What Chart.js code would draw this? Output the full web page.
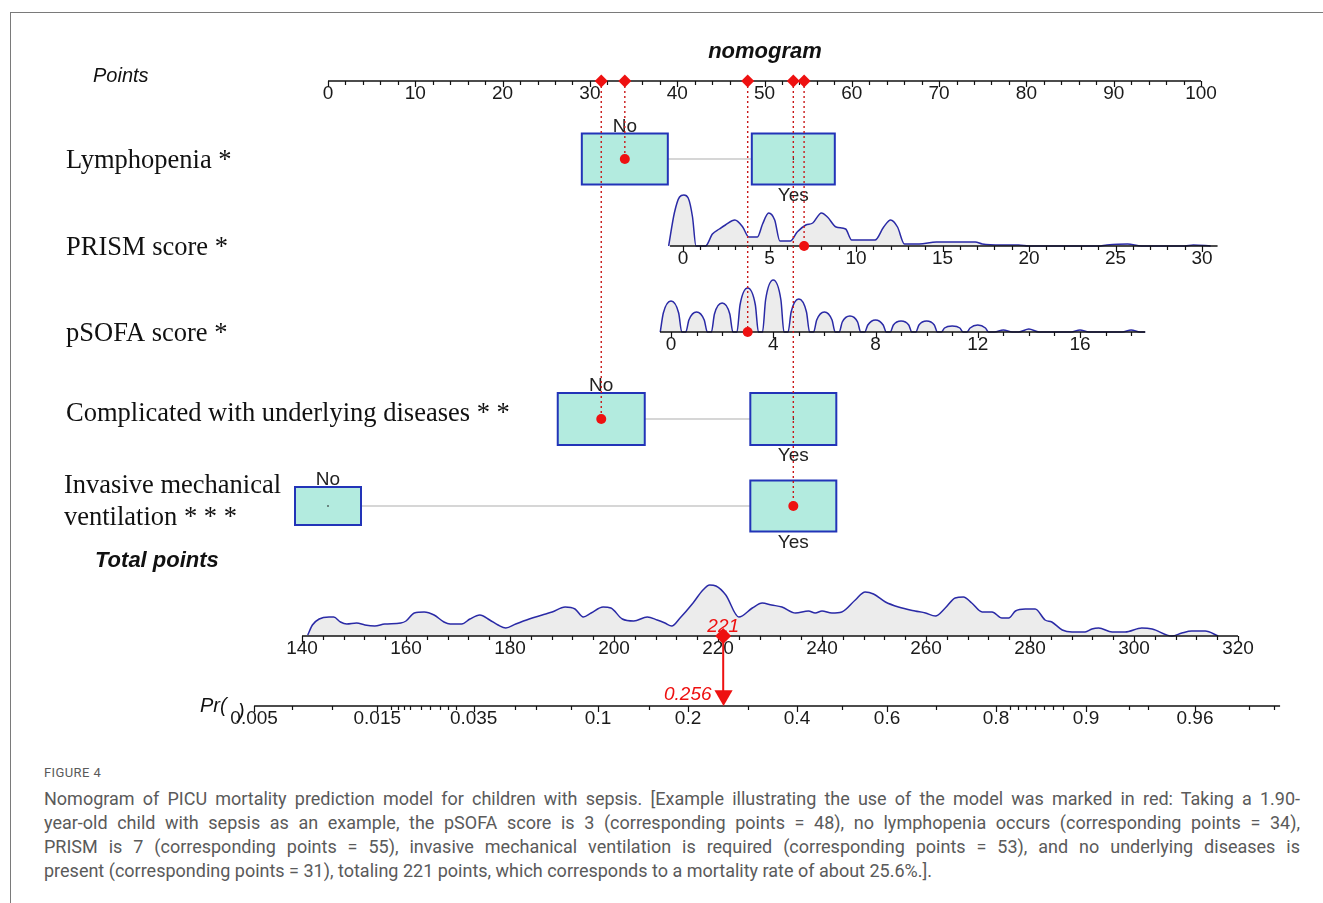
<!DOCTYPE html>
<html>
<head>
<meta charset="utf-8">
<title>Nomogram of PICU mortality</title>
<script src="https://cdn.jsdelivr.net/npm/chart.js@4.4.1/dist/chart.umd.min.js"></script>
<style>
  html, body { margin: 0; padding: 0; background: #fff; }
  body { width: 1323px; height: 903px; position: relative; overflow: hidden; }
  #frame { position: absolute; left: 10px; top: 12px; right: 0; bottom: 0; border-top: 1px solid #7a7a7a; border-left: 1px solid #7a7a7a; }
  #chart { position: absolute; left: 0; top: 0; }
  #caption { position: absolute; left: 44px; top: 765px; width: 1256px; color: #5a5a5a; font-family: "Liberation Sans Narrow", "Roboto", sans-serif; }
  #caption .fig { font-size: 13px; letter-spacing: 0.4px; height: 22px; }
  #caption .ln { font-size: 18px; line-height: 24px; white-space: nowrap; text-align: justify; text-align-last: justify; }
  #caption .ln.last { text-align-last: left; }
</style>
</head>
<body>
<div id="frame"></div>
<canvas id="chart" width="1323" height="745"></canvas>
<div id="caption">
  <div class="fig">FIGURE 4</div>
  <div class="ln">Nomogram of PICU mortality prediction model for children with sepsis. [Example illustrating the use of the model was marked in red: Taking a 1.90-</div>
  <div class="ln">year-old child with sepsis as an example, the pSOFA score is 3 (corresponding points = 48), no lymphopenia occurs (corresponding points = 34),</div>
  <div class="ln">PRISM is 7 (corresponding points = 55), invasive mechanical ventilation is required (corresponding points = 53), and no underlying diseases is</div>
  <div class="ln last">present (corresponding points = 31), totaling 221 points, which corresponds to a mortality rate of about 25.6%.].</div>
</div>
<script>
// nomogram, drawn on one scatter chart with one hidden x scale per axis
const W = 1323, H = 745;

// tick labels
const pointTicks = [0, 10, 20, 30, 40, 50, 60, 70, 80, 90, 100];
const prismTicks = [0, 5, 10, 15, 20, 25, 30];
const sofaTicks = [0, 4, 8, 12, 16];
const totalTicks = [140, 160, 180, 200, 220, 240, 260, 280, 300, 320];
const prTicks = [0.005, 0.015, 0.035, 0.1, 0.2, 0.4, 0.6, 0.8, 0.9, 0.96];
const prMinor = [0.007, 0.01, 0.017, 0.018, 0.019, 0.02, 0.022, 0.024, 0.026, 0.028, 0.03, 0.05, 0.06, 0.08,
  0.15, 0.3, 0.5, 0.7, 0.82, 0.83, 0.84, 0.85, 0.86, 0.87, 0.88, 0.93, 0.94, 0.975, 0.98];

// categorical predictors: level -> points
const lymphLevels = ['No', 'Yes'];
const lymphPoints = [34, 53.3];
const compLevels = ['No', 'Yes'];
const compPoints = [31.3, 53.3];
const ventLevels = ['No', 'Yes'];
const ventPoints = [0, 53.3];

// distributions (value, relative density)
const prismDensity = [[-0.83,0],[-0.5,33],[-0.2,49],[0.05,51],[0.3,48],[0.55,29],[0.75,0],[1.3,0],[1.7,12],[2.1,17],
  [2.45,21],[3.0,26],[3.45,19],[3.8,9],[4.3,9],[4.6,22],[4.95,33],[5.3,26],[5.6,5],[6.2,5],[6.6,14],[7.1,21],[7.5,23],
  [8.0,33],[8.35,29],[8.85,19],[9.4,17],[9.75,6],[10.4,6],[11.1,6],[11.6,19],[12.0,26],[12.4,19],[12.8,2],[13.65,2],
  [14.65,4],[15.7,4],[16.9,4],[17.3,2],[18.4,1],[19.4,1],[20,0],[24,0],[24.5,1],[25.7,2],[26.5,0],[29,0],[29.5,1],[30.5,0]];

const sofaDensity = [
  [-0.42,0],[-0.3,19],[0,31],[0.3,19],[0.42,0],
  [0.58,0],[0.7,12],[1,20],[1.3,12],[1.42,0],
  [1.58,0],[1.7,18],[2,29],[2.3,18],[2.42,0],
  [2.58,0],[2.7,27],[3,44],[3.3,27],[3.42,0],
  [3.58,0],[3.7,32],[4,52],[4.3,32],[4.42,0],
  [4.58,0],[4.7,20],[5,33],[5.3,20],[5.42,0],
  [5.58,0],[5.7,12],[6,20],[6.3,12],[6.42,0],
  [6.58,0],[6.7,10],[7,16],[7.3,10],[7.42,0],
  [7.58,0],[7.7,7],[8,12],[8.3,7],[8.42,0],
  [8.58,0],[8.7,7],[9,11],[9.3,7],[9.42,0],
  [9.58,0],[9.7,7],[10,11],[10.3,7],[10.42,0],
  [10.58,0],[10.7,4],[11,6],[11.3,4],[11.42,0],
  [11.58,0],[11.7,4],[12,7],[12.3,4],[12.42,0],
  [12.65,0],[13,2],[13.35,0],[13.6,0],[14,3],[14.4,0],
  [15.65,0],[16,2],[16.35,0],[17.65,0],[18,2],[18.35,0],[18.55,0]];

const totalDensity = [[141.1,1],[142,11],[143.3,17],[145.2,19],[146.1,19],[147.4,14],[148.6,12],[150.5,13],[152.1,11],
  [154,10],[155.9,12],[159,13],[160,15],[161.6,23],[163.5,24],[165.4,21],[167.3,14],[168.5,12],[170.7,12],[172.3,17],
  [174.2,21],[176.1,16],[177.7,11],[179.2,8],[181.1,12],[183.7,17],[186.2,21],[188.1,24],[190.6,29],[192.5,27],
  [194.1,19],[195.6,23],[197.9,29],[199.4,28],[201.6,17],[203.8,15],[206.4,19],[208.3,16],[209.8,13],[211.1,10],
  [212.7,18],[215.2,33],[217.1,46],[218.4,51],[219.6,50],[221.5,41],[224,19],[226.6,28],[228.5,33],[230.3,31],
  [232.3,29],[234.9,23],[237.4,25],[238.7,23],[240,25],[241.9,23],[243.8,24],[246.4,36],[248.3,44],[249.9,42],
  [252.2,34],[254.7,29],[257.9,25],[259.9,23],[261.8,20],[263.7,28],[265.6,38],[267.2,39],[268.8,33],[270.8,24],
  [272.7,24],[274.6,18],[275.9,18],[277.2,25],[279.1,27],[281,27],[282.9,16],[284.2,14],[286.2,6],[288.1,4],
  [290.6,4],[291.9,7],[293.2,8],[295.8,4],[298.3,4],[301.5,8],[303.5,7],[307.3,0],[309.2,3],[311.1,5],[313.7,5],[316.2,0]];

// worked example (red)
const exLymph = 'No', exComp = 'No', exVent = 'Yes';
const exPrism = 7, exSofa = 3, exTotal = 221, exPr = 0.256;

// layout
const ROW = { points: 81, lymph: 159, prism: 246, sofa: 332, comp: 419, vent: 506, total: 636, pr: 706 };
const BOX = { lymph: [[86, 51], [83, 51]], comp: [[87, 52], [86, 52]], vent: [[66, 38], [86, 51]] };
const RED = '#ee1111', DOT = '#c81818', BLUE = '#2a2aa6';
const SANS = '"Liberation Sans", Arial, sans-serif';
const SERIF = '"Liberation Serif", "Times New Roman", serif';

const logit = p => Math.log(p / (1 - p));
const fmtNum = v => String(v);

// scale bounds so that value v0 sits at pixel p0 and v1 at p1
function span(v0, p0, v1, p1, size){
	const k = (v1 - v0) / (p1 - p0);
	return { min: v0 - p0 * k, max: v0 + (size - p0) * k };
}
const range = (a, b, step) => { const out = []; for(let v = a; v <= b + 1e-9; v += step) out.push(+v.toFixed(4)); return out; };
const pairs = arr => arr.map(([x, y]) => ({ x, y }));

const hidden = { type: 'linear', display: false, bounds: 'data', grid: { display: false } };

function drawAxis(ctx, sc, lo, hi, y, majors, minors, fmt){
	ctx.save();
	ctx.strokeStyle = '#111';
	ctx.lineWidth = 1.5;
	ctx.beginPath();
	ctx.moveTo(sc.getPixelForValue(lo), y);
	ctx.lineTo(sc.getPixelForValue(hi), y);
	ctx.stroke();
	ctx.lineWidth = 1.2;
	ctx.beginPath();
	minors.forEach(v => { const px = Math.round(sc.getPixelForValue(v)) + 0.5; ctx.moveTo(px, y); ctx.lineTo(px, y + 4); });
	majors.forEach(v => { const px = Math.round(sc.getPixelForValue(v)) + 0.5; ctx.moveTo(px, y); ctx.lineTo(px, y + 6); });
	ctx.stroke();
	ctx.fillStyle = '#1a1a1a';
	ctx.font = '19px ' + SANS;
	ctx.textAlign = 'center';
	ctx.textBaseline = 'middle';
	majors.forEach((v, i) => ctx.fillText(fmt(v, i), sc.getPixelForValue(v), y + 13));
	ctx.restore();
}

function drawBoxes(ctx, sc, y, pts, levels, sizes){
	const cx = pts.map(p => sc.getPixelForValue(p));
	ctx.save();
	ctx.strokeStyle = '#c8c8c8';
	ctx.lineWidth = 1.5;
	ctx.beginPath();
	ctx.moveTo(cx[0] + sizes[0][0] / 2, y);
	ctx.lineTo(cx[1] - sizes[1][0] / 2, y);
	ctx.stroke();
	ctx.font = '19px ' + SANS;
	ctx.textAlign = 'center';
	ctx.textBaseline = 'middle';
	levels.forEach((lv, i) => {
		const [w, h] = sizes[i];
		ctx.fillStyle = '#b3ebdf';
		ctx.fillRect(cx[i] - w / 2, y - h / 2, w, h);
		ctx.strokeStyle = '#2234b8';
		ctx.lineWidth = 2;
		ctx.strokeRect(cx[i] - w / 2, y - h / 2, w, h);
		ctx.fillStyle = '#222';
		ctx.fillRect(cx[i] - 0.5, y - 1, 1, 2);
		ctx.fillText(lv, cx[i], i === 0 ? y - h / 2 - 7 : y + h / 2 + 11);
	});
	ctx.restore();
}

const axisDrawers = {
	prism: (c) => drawAxis(c.ctx, c.scales.xPrism, -0.75, 30.9, ROW.prism, prismTicks, range(0, 30, 1), fmtNum),
	sofa: (c) => drawAxis(c.ctx, c.scales.xSofa, -0.43, 18.55, ROW.sofa, sofaTicks, range(0, 18, 1), fmtNum),
	total: (c) => drawAxis(c.ctx, c.scales.xTotal, 140, 320, ROW.total, totalTicks, range(140, 320, 4), fmtNum)
};

const nomoPlugin = {
	id: 'nomo',
	beforeDatasetsDraw(chart){
		const { ctx, scales } = chart;
		drawAxis(ctx, scales.x, 0, 100, ROW.points, pointTicks, range(0, 100, 2), fmtNum);
		drawAxis(ctx, scales.xPr, logit(0.005), logit(0.981), ROW.pr, prTicks.map(logit), prMinor.map(logit), (v, i) => String(prTicks[i]));
		drawBoxes(ctx, scales.x, ROW.lymph, lymphPoints, lymphLevels, BOX.lymph);
		drawBoxes(ctx, scales.x, ROW.comp, compPoints, compLevels, BOX.comp);
		drawBoxes(ctx, scales.x, ROW.vent, ventPoints, ventLevels, BOX.vent);
	},
	afterDatasetDraw(chart, args){
		const key = chart.data.datasets[args.index].axisKey;
		if(key) axisDrawers[key](chart);
	},
	afterDraw(chart){
		const { ctx, scales } = chart;
		ctx.save();
		ctx.fillStyle = '#111';
		ctx.textBaseline = 'middle';
		ctx.textAlign = 'center';
		ctx.font = 'italic bold 22px ' + SANS;
		ctx.fillText('nomogram', 765, 52);
		ctx.textAlign = 'left';
		ctx.font = 'italic 20px ' + SANS;
		ctx.fillText('Points', 93, 76);
		ctx.font = 'italic bold 22px ' + SANS;
		ctx.fillText('Total points', 95, 561);
		ctx.font = 'italic 20px ' + SANS;
		ctx.fillText('Pr(', 200, 706);
		ctx.fillText(')', 238, 712);
		ctx.font = '26.5px ' + SERIF;
		ctx.fillText('Lymphopenia *', 66, 161);
		ctx.fillText('PRISM score *', 66, 248);
		ctx.fillText('pSOFA score *', 66, 334);
		ctx.fillText('Complicated with underlying diseases * *', 66, 414);
		ctx.fillText('Invasive mechanical', 64, 486);
		ctx.fillText('ventilation * * *', 64, 518);
		// red example labels
		ctx.fillStyle = RED;
		ctx.font = 'italic 19px ' + SANS;
		ctx.textAlign = 'center';
		ctx.fillText(String(exTotal), scales.xTotal.getPixelForValue(exTotal), 627);
		ctx.textAlign = 'right';
		ctx.fillText(String(exPr), scales.xPr.getPixelForValue(logit(exPr)) - 12, 695);
		ctx.restore();
	}
};

// guide from the Points axis down to the chosen value of one predictor
function guide(xAxisID, x, rowY){
	return {
		xAxisID, yAxisID: 'y', order: 0, showLine: true,
		data: [{ x, y: ROW.points }, { x, y: rowY }],
		borderColor: DOT, borderWidth: 1.4, borderDash: [2, 3],
		pointStyle: ['rectRot', 'circle'], pointRadius: [6.5, 5],
		pointBackgroundColor: RED, pointBorderColor: RED, pointBorderWidth: 0
	};
}

function density(xAxisID, yAxisID, data, axisKey){
	return {
		xAxisID, yAxisID, axisKey, order: 2, showLine: true,
		data: pairs(data),
		borderColor: BLUE, borderWidth: 1.5, backgroundColor: '#ececec',
		fill: 'origin', pointRadius: 0, cubicInterpolationMode: 'monotone'
	};
}

const datasets = [
	guide('x', lymphPoints[lymphLevels.indexOf(exLymph)], ROW.lymph),
	guide('xPrism', exPrism, ROW.prism),
	guide('xSofa', exSofa, ROW.sofa),
	guide('x', compPoints[compLevels.indexOf(exComp)], ROW.comp),
	guide('x', ventPoints[ventLevels.indexOf(exVent)], ROW.vent),
	{
		xAxisID: 'xTotal', yAxisID: 'y', order: 0, showLine: true,
		data: [{ x: exTotal, y: ROW.total }, { x: exTotal, y: ROW.pr - 14 }],
		borderColor: RED, borderWidth: 2,
		pointStyle: 'rectRot', pointRadius: [8, 0],
		pointBackgroundColor: RED, pointBorderColor: RED, pointBorderWidth: 0
	},
	{
		xAxisID: 'xPr', yAxisID: 'y', order: 0,
		data: [{ x: logit(exPr), y: ROW.pr - 10.5 }],
		pointStyle: 'triangle', rotation: 180, pointRadius: 10.5,
		pointBackgroundColor: RED, pointBorderColor: RED, pointBorderWidth: 0
	},
	density('xPrism', 'yPrism', prismDensity, 'prism'),
	density('xSofa', 'ySofa', sofaDensity, 'sofa'),
	density('xTotal', 'yTotal', totalDensity, 'total')
];

new Chart(document.getElementById('chart'), {
	type: 'scatter',
	data: { datasets },
	options: {
		responsive: false,
		animation: false,
		devicePixelRatio: 1,
		layout: { padding: 0, autoPadding: false },
		plugins: { legend: { display: false }, tooltip: { enabled: false } },
		scales: {
			x: { ...hidden, axis: 'x', ...span(0, 328, 100, 1201, W) },
			xPrism: { ...hidden, axis: 'x', ...span(0, 683, 30, 1202, W) },
			xSofa: { ...hidden, axis: 'x', ...span(0, 671, 16, 1080, W) },
			xTotal: { ...hidden, axis: 'x', ...span(140, 302, 320, 1238, W) },
			xPr: { ...hidden, axis: 'x', ...span(logit(0.1), 598, logit(0.96), 1195, W) },
			y: { ...hidden, axis: 'y', min: 0, max: H, reverse: true },
			yPrism: { ...hidden, axis: 'y', min: ROW.prism - H, max: ROW.prism },
			ySofa: { ...hidden, axis: 'y', min: ROW.sofa - H, max: ROW.sofa },
			yTotal: { ...hidden, axis: 'y', min: ROW.total - H, max: ROW.total }
		}
	},
	plugins: [nomoPlugin]
});
</script>
</body>
</html>
